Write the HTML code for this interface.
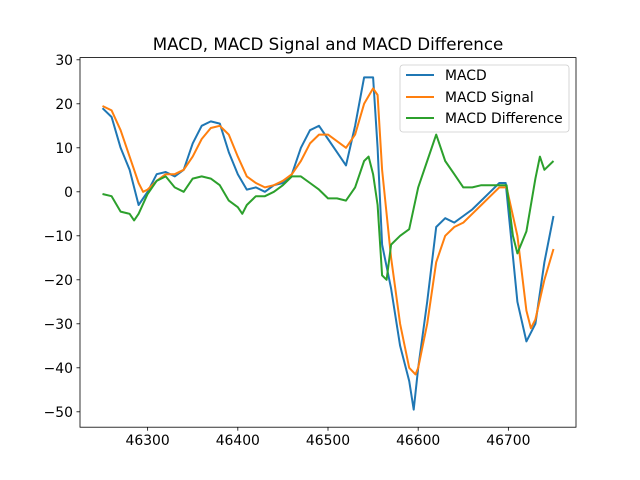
<!DOCTYPE html>
<html><head><meta charset="utf-8"><style>
body{margin:0;background:#fff}
svg{display:block;font-family:"DejaVu Sans","Liberation Sans",sans-serif}
</style></head><body>
<svg id="chart" width="640" height="480" xmlns="http://www.w3.org/2000/svg">
<rect width="640" height="480" fill="#fff"/>
<text x="328" y="50" font-size="16.7" text-anchor="middle" fill="#000">MACD, MACD Signal and MACD Difference</text>
<g id="plot"></g>
<rect x="80" y="57.6" width="496" height="369.6" fill="none" stroke="#000" stroke-width="0.8"/>
<g id="xt"></g>
<g id="yt"></g>
<g>
<rect x="400" y="65" width="169" height="67" rx="3" fill="#fff" fill-opacity="0.8" stroke="#ccc" stroke-width="0.8"/>
<line x1="406" y1="75" x2="434" y2="75" stroke="#1f77b4" stroke-width="2"/>
<text x="445" y="80" font-size="13.9">MACD</text>
<line x1="406" y1="97" x2="434" y2="97" stroke="#ff7f0e" stroke-width="2"/>
<text x="445" y="102" font-size="13.9">MACD Signal</text>
<line x1="406" y1="118" x2="434" y2="118" stroke="#2ca02c" stroke-width="2"/>
<text x="445" y="123" font-size="13.9">MACD Difference</text>
</g>
</svg>
<script>
const macdX=[46250,46260,46270,46280,46290,46300,46310,46320,46330,46340,46350,46360,46370,46380,46390,46400,46410,46420,46430,46440,46450,46460,46470,46480,46490,46500,46510,46520,46530,46540,46550,46555,46560,46570,46580,46590,46595,46600,46610,46620,46630,46640,46650,46660,46670,46680,46690,46697,46710,46720,46730,46740,46750];
const macdY=[19,17,10,5,-3,0,4,4.5,3.5,5,11,15,16,15.5,9,4,0.5,1,0,1.5,2,4,10,14,15,12,9,6,15,26,26,10,-12,-22,-35,-43,-49.5,-40,-25,-8,-6,-7,-5.5,-4,-2,0,2,2,-25,-34,-30,-16,-5.5];
const sigX=[46250,46260,46270,46280,46290,46295,46300,46310,46320,46330,46340,46350,46360,46370,46380,46390,46400,46410,46420,46430,46440,46450,46460,46470,46480,46490,46500,46510,46520,46530,46540,46550,46555,46560,46570,46580,46590,46597,46600,46610,46620,46630,46640,46650,46660,46670,46680,46690,46698,46710,46720,46725,46730,46740,46750];
const sigY=[19.5,18.5,14,8,2,0,0.5,2.5,4,4,5,8,12,14.5,15,13,8,3.5,2,1,1.5,2.5,4,7,11,13,13,11.5,10,13,20,23.5,22,5,-15,-30,-40,-41.5,-40,-30,-16,-10,-8,-7,-5,-3,-1,1,1,-10,-27,-31,-29,-20,-13];
const difX=[46250,46260,46270,46280,46285,46290,46300,46310,46320,46330,46340,46350,46360,46370,46380,46390,46400,46405,46410,46420,46430,46440,46450,46460,46470,46480,46490,46500,46510,46520,46530,46540,46545,46550,46555,46560,46565,46570,46580,46590,46600,46610,46620,46630,46640,46650,46660,46670,46680,46690,46698,46705,46710,46720,46730,46735,46740,46750];
const difY=[-0.5,-1,-4.5,-5,-6.5,-5,-0.5,2.5,3.5,1,0,3,3.5,3,1.5,-2,-3.5,-5,-3,-1,-1,0,1.5,3.5,3.5,2,0.5,-1.5,-1.5,-2,1,7,8,4,-3,-19,-20,-12,-10,-8.5,1,7,13,7,4,1,1,1.5,1.5,1.5,1.5,-10,-14,-9,3,8,5,7];
const xTicks=[46300,46400,46500,46600,46700];
const yTicks=[30,20,10,0,-10,-20,-30,-40,-50];
const X0=46225,X1=46775,Y0=-53.5,Y1=30.5;
const sx=v=>80+(v-X0)/(X1-X0)*496;
const sy=v=>427.2-(v-Y0)/(Y1-Y0)*369.6;
const NS="http://www.w3.org/2000/svg";
const plot=document.getElementById('plot');
function line(xs,ys,color,name){
  const p=document.createElementNS(NS,'polyline');
  p.setAttribute('points',xs.map((x,i)=>sx(x).toFixed(1)+','+sy(ys[i]).toFixed(1)).join(' '));
  p.setAttribute('fill','none');p.setAttribute('stroke',color);p.setAttribute('stroke-width','2');
  p.setAttribute('stroke-linejoin','round');
  
  
  plot.appendChild(p);
}
line(macdX,macdY,'#1f77b4','macd-line');
line(sigX,sigY,'#ff7f0e','macd-signal-line');
line(difX,difY,'#2ca02c','macd-difference-line');
const xt=document.getElementById('xt');
xTicks.forEach(t=>{
  const l=document.createElementNS(NS,'line');
  l.setAttribute('x1',sx(t));l.setAttribute('x2',sx(t));l.setAttribute('y1',427.2);l.setAttribute('y2',430.7);
  l.setAttribute('stroke','#000');l.setAttribute('stroke-width','0.8');
  
  
  xt.appendChild(l);
  const tx=document.createElementNS(NS,'text');
  tx.setAttribute('x',sx(t));tx.setAttribute('y',445);tx.setAttribute('font-size','13.9');tx.setAttribute('text-anchor','middle');
  tx.textContent=t;
  
  
  xt.appendChild(tx);
});
const yt=document.getElementById('yt');
yTicks.forEach(t=>{
  const l=document.createElementNS(NS,'line');
  l.setAttribute('x1',76.5);l.setAttribute('x2',80);l.setAttribute('y1',sy(t));l.setAttribute('y2',sy(t));
  l.setAttribute('stroke','#000');l.setAttribute('stroke-width','0.8');
  
  
  yt.appendChild(l);
  const tx=document.createElementNS(NS,'text');
  tx.setAttribute('x',73);tx.setAttribute('y',sy(t)+5);tx.setAttribute('font-size','13.9');tx.setAttribute('text-anchor','end');
  tx.textContent=t<0?'\u2212'+(-t):t;
  
  
  yt.appendChild(tx);
});
</script>
</body></html>
